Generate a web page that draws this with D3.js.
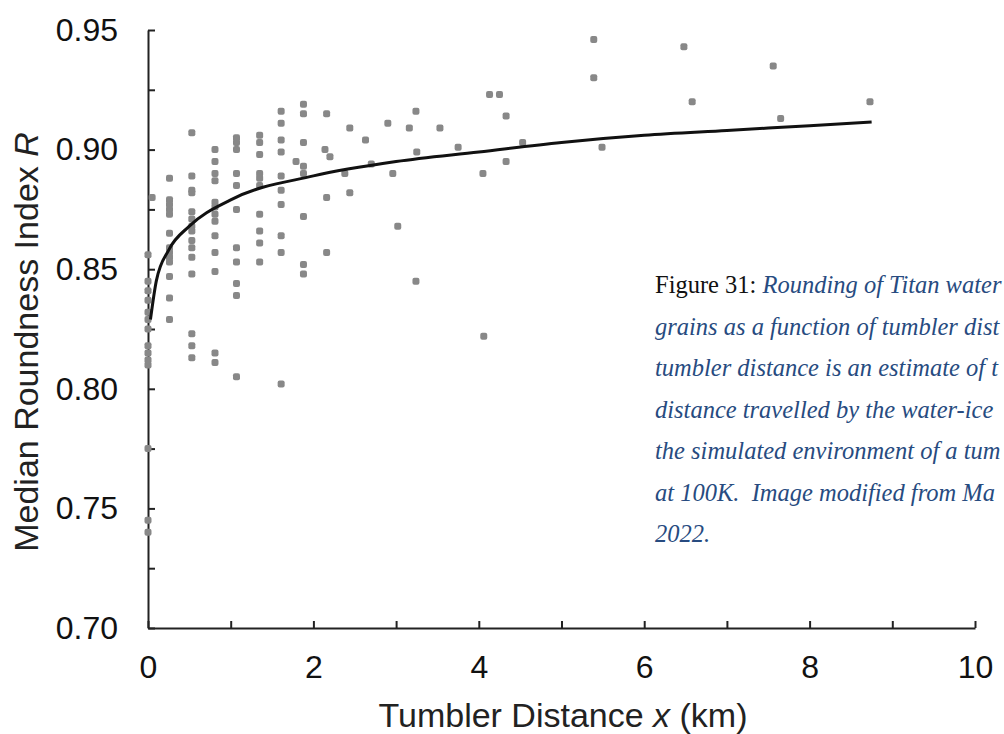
<!DOCTYPE html>
<html>
<head>
<meta charset="utf-8">
<script src="https://cdn.jsdelivr.net/npm/d3@7"></script>
<style>
  body { margin: 0; background: #fff; }
  svg { display: block; }
  .axis text { font-family: "Liberation Sans", Arial, sans-serif; font-size: 32px; fill: #111; }
  .axis path, .axis line { stroke: #222; stroke-width: 2; }
  .title { font-family: "Liberation Sans", Arial, sans-serif; font-size: 34px; fill: #222; }
  .caption { font-family: "Liberation Serif", "Times New Roman", serif; font-size: 24.5px; white-space: pre; }
</style>
</head>
<body>
<div id="chart"></div>
<script>
// measured grains: tumbler distance (km) and median roundness R
const distanceKm = [
  0.05, 0, 0, 0, 0, 0, 0, 0, 0, 0, 0, 0, 0, 0, 0,
  0.26, 0.26, 0.26, 0.26, 0.26, 0.26, 0.26, 0.26, 0.26, 0.26, 0.26, 0.26, 0.26,
  0.53, 0.53, 0.53, 0.53, 0.53, 0.53, 0.53, 0.53, 0.53, 0.53, 0.53, 0.53, 0.53, 0.53, 0.53,
  0.81, 0.81, 0.81, 0.81, 0.81, 0.81, 0.81, 0.81, 0.81, 0.81, 0.81, 0.81, 0.81,
  1.07, 1.07, 1.07, 1.07, 1.07, 1.07, 1.07, 1.07, 1.07, 1.07, 1.07,
  1.35, 1.35, 1.35, 1.35, 1.35, 1.35, 1.35, 1.35, 1.35, 1.35,
  1.61, 1.61, 1.61, 1.61, 1.61, 1.61, 1.61, 1.61, 1.61, 1.61,
  1.88, 1.88, 1.88, 1.79, 1.88, 1.88, 1.88, 1.88, 1.88,
  2.16, 2.14, 2.20, 2.16, 2.16,
  2.44, 2.38, 2.44, 2.63, 2.70, 2.90, 2.96, 3.02, 3.16, 3.24, 3.25, 3.24,
  3.53, 3.75, 4.05, 4.06, 4.13, 4.25, 4.33, 4.33, 4.53,
  5.39, 5.39, 5.49, 6.48, 6.58, 7.56, 7.65, 8.73
];
const roundness = [
  0.880, 0.856, 0.845, 0.841, 0.837, 0.832, 0.829, 0.825, 0.818, 0.815, 0.812, 0.810, 0.775, 0.745, 0.740,
  0.888, 0.879, 0.877, 0.875, 0.873, 0.865, 0.859, 0.857, 0.855, 0.853, 0.847, 0.838, 0.829,
  0.907, 0.889, 0.883, 0.882, 0.874, 0.871, 0.868, 0.866, 0.862, 0.859, 0.855, 0.848, 0.823, 0.818, 0.813,
  0.900, 0.895, 0.890, 0.887, 0.878, 0.876, 0.873, 0.870, 0.864, 0.857, 0.849, 0.815, 0.811,
  0.905, 0.903, 0.900, 0.890, 0.885, 0.875, 0.859, 0.853, 0.844, 0.839, 0.805,
  0.906, 0.903, 0.898, 0.890, 0.888, 0.885, 0.873, 0.866, 0.861, 0.853,
  0.916, 0.911, 0.904, 0.899, 0.889, 0.883, 0.877, 0.864, 0.857, 0.802,
  0.919, 0.915, 0.903, 0.895, 0.893, 0.890, 0.872, 0.852, 0.848,
  0.915, 0.900, 0.897, 0.880, 0.857,
  0.909, 0.890, 0.882, 0.904, 0.894, 0.911, 0.890, 0.868, 0.909, 0.916, 0.899, 0.845,
  0.909, 0.901, 0.890, 0.822, 0.923, 0.923, 0.914, 0.895, 0.903,
  0.946, 0.930, 0.901, 0.943, 0.920, 0.935, 0.913, 0.920
];

// fitted trend line
const fitKm = [0.03, 0.1, 0.25, 0.5, 1, 2, 3, 4, 5, 6, 7, 8, 8.75];
const fitR  = [0.829, 0.845, 0.858, 0.868, 0.879, 0.889, 0.895, 0.899, 0.903, 0.906, 0.908, 0.910, 0.9115];

const xTicks = [0, 1, 2, 3, 4, 5, 6, 7, 8, 9, 10];
const yTicks = [0.70, 0.725, 0.75, 0.775, 0.80, 0.825, 0.85, 0.875, 0.90, 0.925, 0.95];

const captionLines = [
  "Rounding of Titan water-ice",
  "grains as a function of tumbler distance. The",
  "tumbler distance is an estimate of the",
  "distance travelled by the water-ice grains in",
  "the simulated environment of a tumbler",
  "at 100K.  Image modified from Maue et al.",
  "2022."
];

const width = 1004, height = 734;

const svg = d3.select("#chart").append("svg")
  .attr("width", width)
  .attr("height", height);

const x = d3.scaleLinear().domain([0, 10]).range([148, 975]);
const y = d3.scaleLinear().domain([0.70, 0.95]).range([628, 30]);

// x axis, ticks pointing into the plot
svg.append("g")
  .attr("class", "axis")
  .attr("transform", `translate(0,${y(0.70)})`)
  .call(d3.axisBottom(x).tickValues(xTicks).tickSize(-7).tickSizeOuter(0).tickPadding(27)
    .tickFormat(d => d % 2 === 0 ? d : ""));

// y axis, minor ticks every 0.025
svg.append("g")
  .attr("class", "axis")
  .attr("transform", `translate(${x(0)},0)`)
  .call(d3.axisLeft(y).tickValues(yTicks).tickSize(-7).tickSizeOuter(0).tickPadding(30)
    .tickFormat(d => Math.round(d * 1000) % 50 === 0 ? d3.format(".2f")(d) : ""));

// grain points
const pts = distanceKm.map((d, i) => ({ km: d, r: roundness[i] }));
svg.append("g").selectAll("rect")
  .data(pts).enter().append("rect")
  .attr("x", d => x(d.km) - 3.5)
  .attr("y", d => y(d.r) - 3.5)
  .attr("width", 7).attr("height", 7)
  .attr("rx", 2)
  .attr("fill", "#888");

// trend line
const fit = fitKm.map((d, i) => ({ km: d, r: fitR[i] }));
svg.append("path")
  .datum(fit)
  .attr("fill", "none")
  .attr("stroke", "#111")
  .attr("stroke-width", 3)
  .attr("d", d3.line().x(d => x(d.km)).y(d => y(d.r)).curve(d3.curveMonotoneX));

// axis titles
const xt = svg.append("text").attr("class", "title")
  .attr("x", 563).attr("y", 727).attr("text-anchor", "middle");
xt.append("tspan").text("Tumbler Distance ");
xt.append("tspan").attr("font-style", "italic").text("x");
xt.append("tspan").text(" (km)");

const yt = svg.append("text").attr("class", "title")
  .attr("transform", "translate(38,342) rotate(-90)")
  .attr("text-anchor", "middle");
yt.append("tspan").text("Median Roundness Index ");
yt.append("tspan").attr("font-style", "italic").text("R");

// figure caption (runs off the right edge in the source page, so trim to fit)
const capX = 655, capY = 293, capLead = 41.5, edge = width - 2;
captionLines.forEach((line, i) => {
  const t = svg.append("text").attr("class", "caption")
    .attr("x", capX).attr("y", capY + i * capLead);
  if (i === 0) t.append("tspan").attr("fill", "#111").text("Figure 31: ");
  const body = t.append("tspan").attr("fill", "#274b80").attr("font-style", "italic").text(line);
  let s = line;
  while (s.length > 1 && capX + t.node().getComputedTextLength() > edge) {
    s = s.slice(0, -1);
    body.text(s);
  }
});
</script>
</body>
</html>
